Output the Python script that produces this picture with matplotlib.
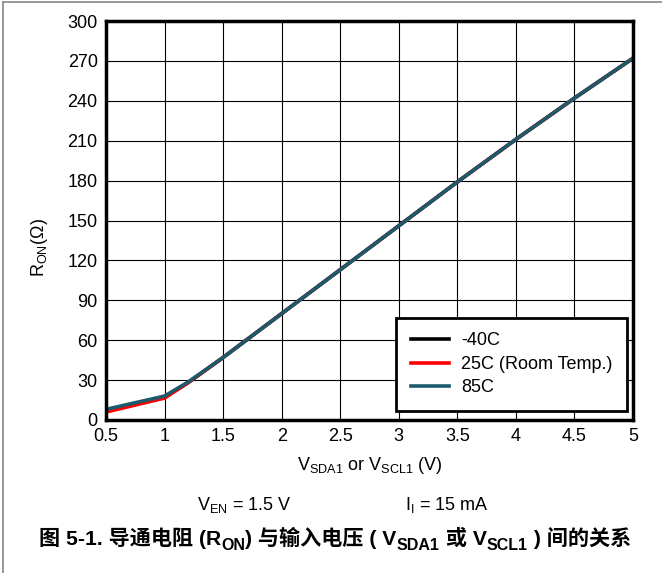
import matplotlib
matplotlib.use("Agg")
import matplotlib.pyplot as plt
from matplotlib.lines import Line2D

plt.rcParams['font.family'] = ['Liberation Sans', 'Noto Sans CJK SC', 'DejaVu Sans']
plt.rcParams['mathtext.fontset'] = 'custom'
plt.rcParams['mathtext.rm'] = 'Liberation Sans'
plt.rcParams['mathtext.it'] = 'Liberation Sans'
plt.rcParams['mathtext.bf'] = 'Liberation Sans:bold'

# data
v_in = [0.5, 1.0, 1.2, 1.5, 2.0, 2.5, 3.0, 3.5, 4.0, 4.5, 5.0]
r_m40 = [7, 17, 28, 47, 80, 113, 146, 179, 211, 242, 272]
r_25 = [6, 16.5, 28, 47, 80, 113, 146, 179, 211, 242, 272]
r_85 = [8, 18, 28.5, 47, 80, 113, 146, 179, 211, 242, 272]
series = [("-40C", r_m40, "#000000"),
          ("25C (Room Temp.)", r_25, "#ff0000"),
          ("85C", r_85, "#1c5a6b")]
x_ticks = [0.5, 1, 1.5, 2, 2.5, 3, 3.5, 4, 4.5, 5]
x_labels = ["0.5", "1", "1.5", "2", "2.5", "3", "3.5", "4", "4.5", "5"]
y_ticks = list(range(0, 301, 30))

# caption pieces: (text, subscript?)
caption = [("图 5-1. 导通电阻 (R", False), ("ON", True), (") 与输入电压 ( V", False),
           ("SDA1", True), (" 或 V", False), ("SCL1", True), (" ) 间的关系", False)]

W, H = 662, 573
fig = plt.figure(figsize=(W / 100, H / 100), dpi=100)
ax = fig.add_axes([106 / W, 1 - 420 / H, 527 / W, 399 / H])

for name, vals, col in series:
    ax.plot(v_in, vals, color=col, lw=2.6, label=name, solid_capstyle='butt')

ax.set_xlim(0.5, 5)
ax.set_ylim(0, 300)
ax.set_xticks(x_ticks)
ax.set_xticklabels(x_labels)
ax.set_yticks(y_ticks)
ax.grid(True, color='black', lw=0.8)
ax.tick_params(labelsize=13, length=0, pad=6)
for s in ax.spines.values():
    s.set_linewidth(2.5)

ax.set_xlabel(r"V$_{\mathregular{SDA1}}$ or V$_{\mathregular{SCL1}}$ (V)", fontsize=13, labelpad=7)
fig.text(40 / W, 1 - 248 / H, r"R$_{\mathregular{ON}}$($\Omega$)", fontsize=13,
         rotation=90, ha='center', va='center')

handles = [Line2D([], [], color=c, lw=2.6) for _, _, c in series]
leg = ax.legend(handles, [n for n, _, _ in series], loc='lower right',
                bbox_to_anchor=(0.989, 0.023), fontsize=13, frameon=True,
                fancybox=False, framealpha=1, borderpad=0.8, labelspacing=0.36,
                handlelength=2.1, handletextpad=0.7, borderaxespad=0)
leg.get_frame().set_edgecolor('black')
leg.get_frame().set_linewidth(2)

fig.text(197 / W, 1 - 505 / H, r"V$_{\mathregular{EN}}$ = 1.5 V", fontsize=13, va='center')
fig.text(405 / W, 1 - 505 / H, r"I$_{\mathregular{I}}$ = 15 mA", fontsize=13, va='center')

# caption laid out piece by piece so the CJK fallback works
renderer = fig.canvas.get_renderer()
base_y = 545
pieces = []
x = 0
for txt, sub in caption:
    fs = 11.5 if sub else 15.2
    dy = 4.5 if sub else 0
    t = fig.text(0, 0, txt, fontsize=fs, fontweight='bold', va='baseline')
    w = t.get_window_extent(renderer).width
    pieces.append((t, x, dy))
    x += w
start = 335 - x / 2
for t, xo, dy in pieces:
    t.set_position(((start + xo) / W, 1 - (base_y + dy) / H))

# partial page border
fig.add_artist(Line2D([3 / W, 3 / W], [0, 1 - 1.5 / H], color='#888888', lw=1.2))
fig.add_artist(Line2D([3 / W, 1], [1 - 1.5 / H, 1 - 1.5 / H], color='#888888', lw=1.2))

fig.savefig("out.png", dpi=100)
